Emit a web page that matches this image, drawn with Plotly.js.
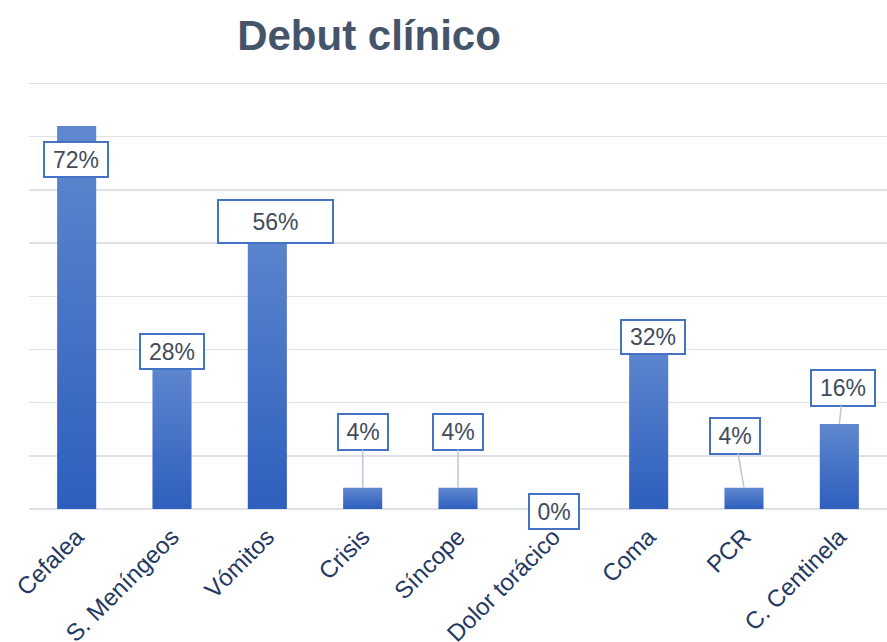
<!DOCTYPE html>
<html>
<head>
<meta charset="utf-8">
<script src="https://cdn.plot.ly/plotly-3.0.1.min.js"></script>
<style>html,body{margin:0;padding:0;background:#fff;}#chart{width:887px;height:642px;}</style>
</head>
<body>
<div id="chart"></div>
<script>
// ---- data ----
const categories = ["Cefalea", "S. Meníngeos", "Vómitos", "Crisis", "Síncope", "Dolor torácico", "Coma", "PCR", "C. Centinela"];
const values = [72, 28, 56, 4, 4, 0, 32, 4, 16];
const labels = ["72%", "28%", "56%", "4%", "4%", "0%", "32%", "4%", "16%"];
const chartTitle = "Debut clínico";

// ---- label placement (pixel offsets from bar top, box sizes) ----
const labelDx = [-1, 0, 8.5, 0, 0, 0.5, 4.5, -9, 4];
const labelDy = [33, -8.5, 10.5, -56, -56, 2, -2, -52, -36];
const labelW = [56, 56, 107, 42, 42, 42, 56, 42, 56];
const labelH = [27, 27, 35, 28, 28, 27, 26, 28, 28];
const labelLine = [false, false, false, true, true, false, false, true, true];

const annotations = categories.map((c, i) => ({
  x: c, y: values[i], xref: 'x', yref: 'y',
  text: labels[i],
  showarrow: true, arrowhead: 0, arrowwidth: 1.5,
  arrowcolor: labelLine[i] ? '#BCC6D4' : 'rgba(0,0,0,0)',
  ax: labelDx[i], ay: labelDy[i],
  width: labelW[i], height: labelH[i],
  bgcolor: '#ffffff', bordercolor: '#4472C4', borderwidth: 2, borderpad: 3,
  font: {family: 'Liberation Sans, Arial, sans-serif', size: 23, color: '#404B5C'}
}));

const trace = {
  type: 'bar', x: categories, y: values,
  marker: {color: '#4472C4', line: {width: 0}},
  hoverinfo: 'none'
};

const layout = {
  width: 887, height: 642,
  margin: {l: 29, r: 0, t: 80, b: 133},
  paper_bgcolor: '#ffffff', plot_bgcolor: '#ffffff',
  bargap: 0.59,
  showlegend: false,
  title: {
    text: '<b>' + chartTitle + '</b>',
    xref: 'container', yref: 'container', x: 0.416, y: 0.945,
    xanchor: 'center', yanchor: 'middle',
    font: {family: 'Liberation Sans, Arial, sans-serif', size: 42, color: '#44546A'}
  },
  xaxis: {
    type: 'category', tickangle: -45, ticks: '', showline: false, showgrid: false,
    tickfont: {family: 'Liberation Sans, Arial, sans-serif', size: 24, color: '#1F3864'},
    ticklabelstandoff: 8,
    automargin: false
  },
  yaxis: {
    range: [0, 80.66], tick0: 0, dtick: 10, showticklabels: false, ticks: '',
    showgrid: true, gridcolor: '#DEE2E8', gridwidth: 1.5,
    zeroline: true, zerolinecolor: '#DEE2E8', zerolinewidth: 1.5,
    showline: false, automargin: false
  },
  annotations: annotations
};

Plotly.newPlot('chart', [trace], layout, {displayModeBar: false, staticPlot: true}).then(gd => {
  const svg = gd.querySelector('svg.main-svg');
  const ns = 'http://www.w3.org/2000/svg';
  let defs = svg.querySelector('defs');
  if (!defs) { defs = document.createElementNS(ns, 'defs'); svg.insertBefore(defs, svg.firstChild); }
  const g = document.createElementNS(ns, 'linearGradient');
  g.setAttribute('id', 'barGrad');
  g.setAttribute('x1', '0'); g.setAttribute('y1', '0');
  g.setAttribute('x2', '0'); g.setAttribute('y2', '1');
  [['0', '#6088CF'], ['1', '#2E5FBE']].forEach(([o, c]) => {
    const s = document.createElementNS(ns, 'stop');
    s.setAttribute('offset', o); s.setAttribute('stop-color', c);
    g.appendChild(s);
  });
  defs.appendChild(g);
  gd.querySelectorAll('.barlayer .point path').forEach(p => { p.style.fill = 'url(#barGrad)'; });
});
</script>
</body>
</html>
